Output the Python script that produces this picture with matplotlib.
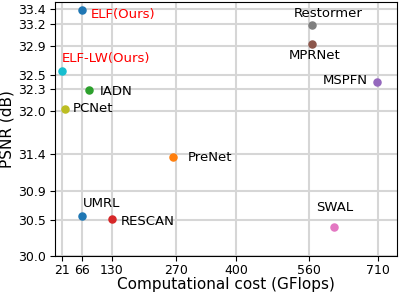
import matplotlib.pyplot as plt

# model names, cost (GFlops) and PSNR (dB)
names = ['ELF(Ours)', 'ELF-LW(Ours)', 'IADN', 'PCNet', 'PreNet', 'UMRL',
         'RESCAN', 'SWAL', 'Restormer', 'MPRNet', 'MSPFN']
gflops = [66, 21, 81, 29, 264, 66, 130, 614, 565, 566, 708]
psnr = [33.39, 32.55, 32.29, 32.03, 31.36, 30.55, 30.51, 30.40, 33.19, 32.92, 32.40]
colors = ['tab:blue', 'tab:cyan', 'tab:green', 'tab:olive', 'tab:orange', 'tab:blue',
          'tab:red', 'tab:pink', 'tab:gray', 'tab:brown', 'tab:purple']
text_colors = ['red', 'red'] + ['black'] * 9

# label offsets in pixels (dx, dy)
offsets = [(8, -4), (0, 12), (10, -2), (7, 0), (14, 0), (0, 13), (9, -3),
           (-18, 19), (-18, 11), (-23, -11), (-55, 1)]

xticks = [21, 66, 130, 270, 400, 560, 710]
yticks = [30.0, 30.5, 30.9, 31.4, 32.0, 32.3, 32.5, 32.9, 33.2, 33.4]

fig = plt.figure(figsize=(3.99, 2.92), dpi=100)
ax = fig.add_axes([0.1386, 0.1233, 0.8556, 0.8697])

ax.grid(True, color='#d6d6d6', linewidth=1.5, zorder=0)
ax.set_axisbelow(True)

for name, x, y, c, tc, off in zip(names, gflops, psnr, colors, text_colors, offsets):
    ax.scatter(x, y, s=26, color=c, zorder=3)
    ax.annotate(name, (x, y), xytext=off, textcoords='offset pixels',
                ha='left', va='center', fontsize=9.5, color=tc)

ax.set_xticks(xticks)
ax.set_yticks(yticks)
ax.tick_params(labelsize=9)
ax.tick_params(axis='x', pad=2.5)
ax.set_xlim(7, 750)
ax.set_ylim(30.0, 33.5)
ax.set_xlabel('Computational cost (GFlops)', fontsize=11, labelpad=-0.5)
ax.set_ylabel('PSNR (dB)', fontsize=11, labelpad=2)

fig.savefig('out.png', dpi=100)
